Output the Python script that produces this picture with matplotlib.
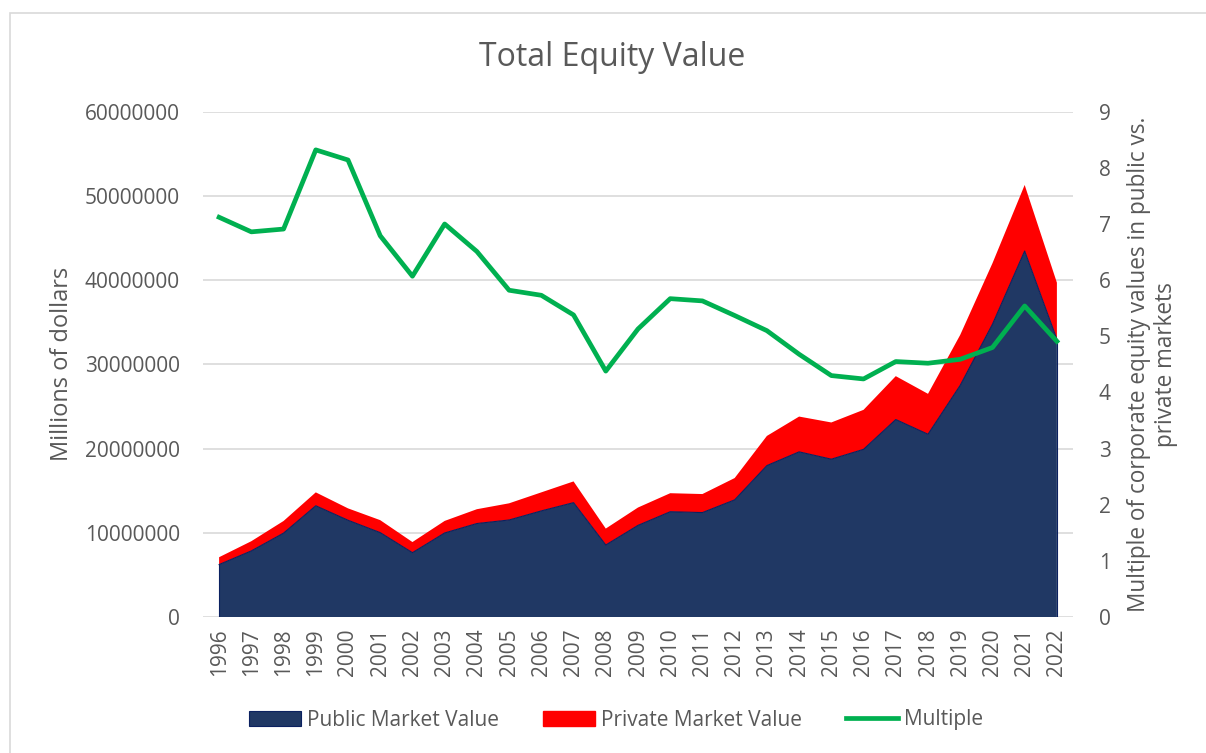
import numpy as np
import matplotlib.pyplot as plt
from matplotlib.patches import Patch, Rectangle
from matplotlib.lines import Line2D

plt.rcParams['font.family'] = ['Open Sans', 'DejaVu Sans']

years = [str(y) for y in range(1996, 2023)]
# values (dollars, stacked areas)
public = [6230000, 7850000, 9960000, 13210000, 11490000, 10020000, 7640000, 9980000,
          11100000, 11520000, 12600000, 13580000, 8550000, 10880000, 12500000, 12400000,
          13910000, 17980000, 19610000, 18740000, 19910000, 23450000, 21700000, 27510000,
          34760000, 43460000, 32980000]
private = [870000, 1150000, 1440000, 1590000, 1410000, 1480000, 1260000, 1430000,
           1700000, 1980000, 2200000, 2520000, 1950000, 2120000, 2200000, 2200000,
           2590000, 3520000, 4190000, 4360000, 4690000, 5150000, 4800000, 5990000,
           7240000, 7840000, 6720000]
multiple = [7.12, 6.86, 6.91, 8.32, 8.14, 6.79, 6.07, 7.00, 6.51, 5.82, 5.73, 5.38, 4.38,
            5.13, 5.67, 5.63, 5.37, 5.10, 4.68, 4.30, 4.24, 4.55, 4.52, 4.59, 4.80, 5.54, 4.91]

navy = '#203864'
red = '#FF0000'
green = '#00B050'
grey = '#595959'

W, H = 1206, 753
fig = plt.figure(figsize=(W / 100, H / 100), dpi=100)
# chart frame: only the left and top edges fall inside the picture
fig.patches.append(Rectangle((10 / W, -20 / H), 1220 / W, (H - 13 + 20) / H, transform=fig.transFigure,
                             fill=False, edgecolor='#D9D9D9', linewidth=1.2))

ax = fig.add_axes([203 / W, 1 - 617 / H, 870 / W, 505.3 / H])
x = np.arange(len(years))
ax.stackplot(x, public, private, colors=[navy, red], linewidth=0)
ax.plot(x, public, color='#0B2160', linewidth=0.8)
ax.plot([x[0], x[0]], [0, public[0]], color='#0B2160', linewidth=0.8)
ax.plot([x[-1], x[-1]], [0, public[-1]], color='#0B2160', linewidth=0.8)

ax.set_xlim(-0.5, len(years) - 0.5)
ax.set_ylim(0, 60000000)
ax.set_yticks(np.arange(0, 60000001, 10000000))
ax.set_yticklabels([str(v) for v in range(0, 60000001, 10000000)])
ax.set_xticks(x)
ax.set_xticklabels(years, rotation=90)
ax.grid(axis='y', color='#D9D9D9', linewidth=1.2)
ax.set_axisbelow(True)
for s in ax.spines.values():
    s.set_visible(False)
ax.tick_params(length=0, colors=grey, labelsize=15)
ax.tick_params(axis='y', pad=16.5)
ax.tick_params(axis='x', pad=8)
ax.set_ylabel('Millions of dollars', fontsize=17, color=grey, labelpad=8)

ax2 = ax.twinx()
ax2.plot(x, multiple, color=green, linewidth=3.4, solid_joinstyle='round')
ax2.set_ylim(0, 9)
ax2.set_yticks(range(0, 10))
for s in ax2.spines.values():
    s.set_visible(False)
ax2.tick_params(length=0, colors=grey, labelsize=15, pad=18.5)
ax2.set_ylabel('Multiple of corporate equity values in public vs.\nprivate markets',
               fontsize=16.3, color=grey, labelpad=12, linespacing=1.15)

fig.text(0.5075, 1 - 57 / H, 'Total Equity Value', ha='center', va='center',
         fontsize=23, color=grey)

handles = [Patch(facecolor=navy, edgecolor='#0B2160', linewidth=0.8),
           Patch(facecolor=red, edgecolor=red),
           Line2D([], [], color=green, linewidth=3.4)]
fig.legend(handles, ['Public Market Value', 'Private Market Value', 'Multiple'],
           loc='center', bbox_to_anchor=(616 / W, 1 - 720 / H), ncol=3, frameon=False,
           fontsize=15, labelcolor=grey, handlelength=2.5, handleheight=0.7,
           handletextpad=0.3, columnspacing=2.1)

fig.savefig('out.png', dpi=100)
